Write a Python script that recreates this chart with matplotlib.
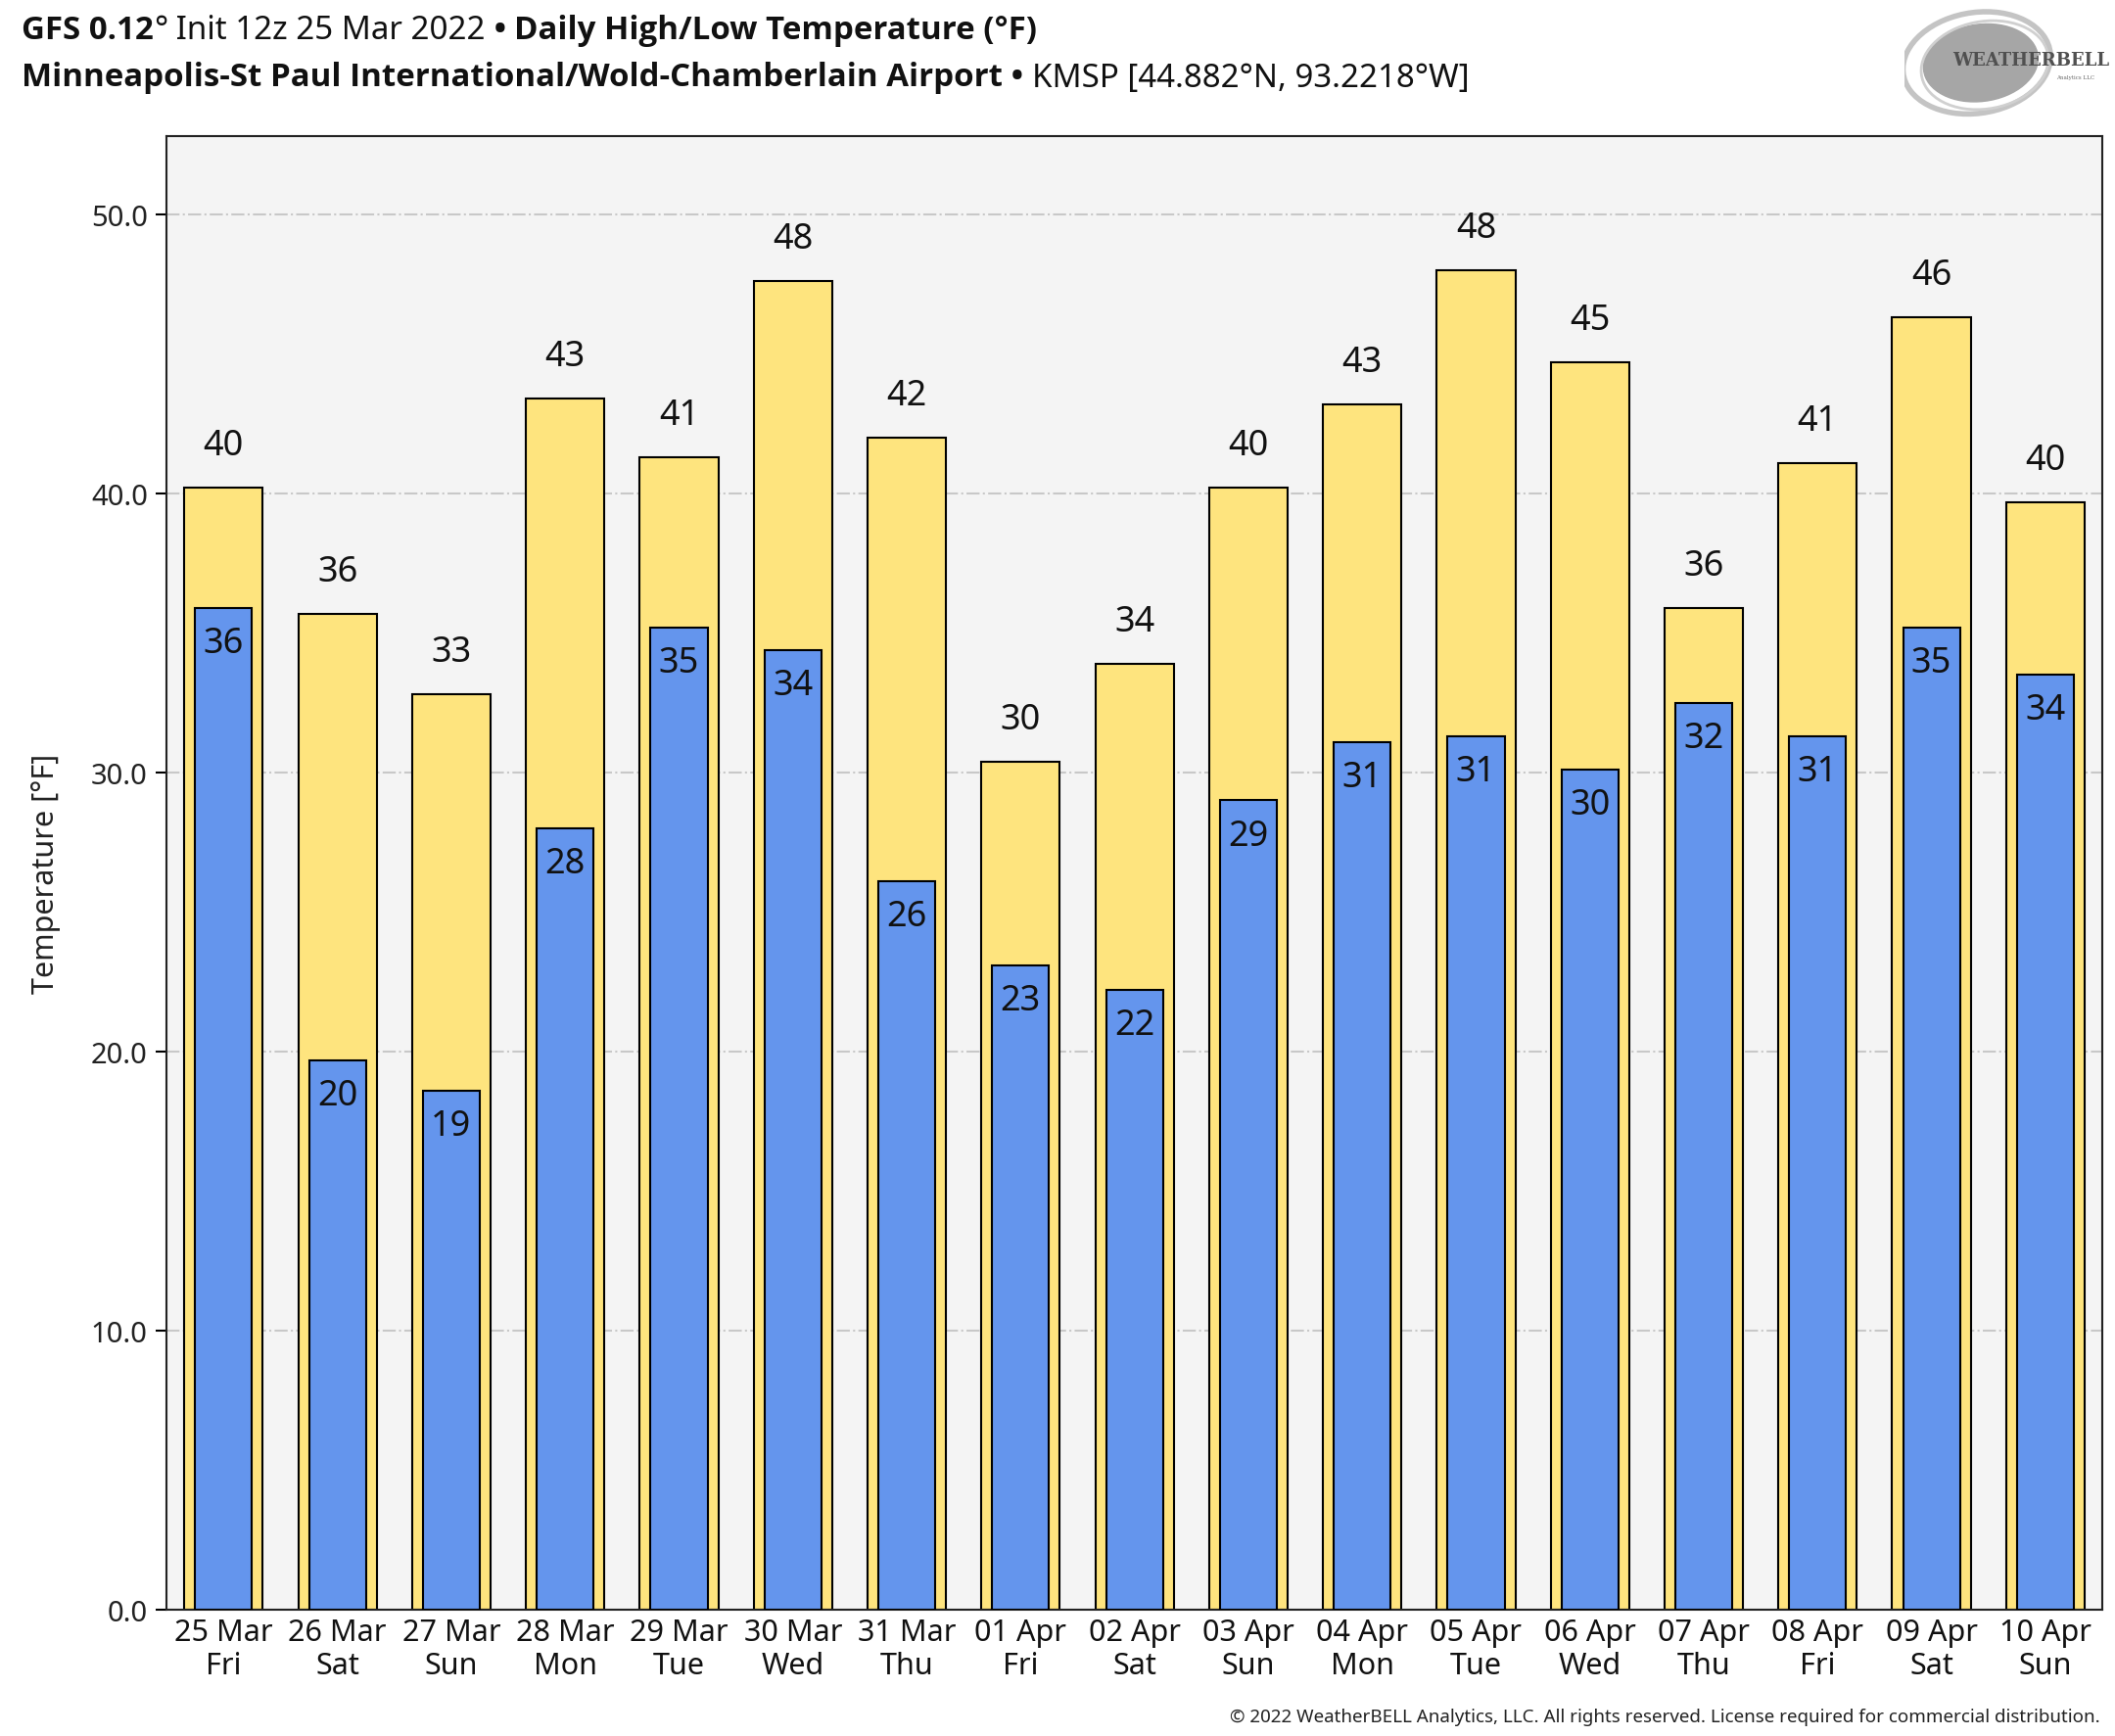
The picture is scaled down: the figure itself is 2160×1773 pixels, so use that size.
import matplotlib
matplotlib.use("Agg")
import matplotlib.pyplot as plt
from matplotlib.patches import Ellipse
from matplotlib import font_manager as fm
import numpy as np

dates = ["25 Mar", "26 Mar", "27 Mar", "28 Mar", "29 Mar", "30 Mar", "31 Mar", "01 Apr", "02 Apr",
         "03 Apr", "04 Apr", "05 Apr", "06 Apr", "07 Apr", "08 Apr", "09 Apr", "10 Apr"]
weekdays = ["Fri", "Sat", "Sun", "Mon", "Tue", "Wed", "Thu", "Fri", "Sat",
            "Sun", "Mon", "Tue", "Wed", "Thu", "Fri", "Sat", "Sun"]
highs = [40.2, 35.7, 32.8, 43.4, 41.3, 47.6, 42.0, 30.4, 33.9, 40.2, 43.2, 48.0, 44.7, 35.9, 41.1, 46.3, 39.7]
lows = [35.9, 19.7, 18.6, 28.0, 35.2, 34.4, 26.1, 23.1, 22.2, 29.0, 31.1, 31.3, 30.1, 32.5, 31.3, 35.2, 33.5]
yticks = [0, 10, 20, 30, 40, 50]

plt.rcParams['font.family'] = ['Noto Sans', 'DejaVu Sans']

bold_family = 'DejaVu Sans'
for fam in ['Noto Sans', 'Open Sans', 'Roboto', 'Lato', 'Inter']:
    try:
        p = fm.findfont(fm.FontProperties(family=fam, weight='bold'), fallback_to_default=False)
        if 'bold' in p.lower() or 'black' in p.lower() or 'semibold' in p.lower():
            bold_family = fam
            break
    except Exception:
        pass

W, H = 2160, 1774
fig = plt.figure(figsize=(W / 100, H / 100), dpi=100)
ax = fig.add_axes([0.0788, 0.0727, 0.994 - 0.0788, 0.921 - 0.0727])
ax.set_facecolor('#f4f4f4')

x = np.arange(len(dates))
ax.set_axisbelow(True)
ax.grid(axis='y', linestyle='-.', color='#c8c8c8', linewidth=1.5)
ax.bar(x, highs, width=0.69, color='#fee47e', edgecolor='black', linewidth=1.5, zorder=2)
ax.bar(x, lows, width=0.5, color='#6495ed', edgecolor='black', linewidth=1.5, zorder=3)

for xi, h, l in zip(x, highs, lows):
    ax.annotate(f"{round(h):d}", (xi, h), xytext=(0, 18), textcoords='offset points',
                ha='center', va='bottom', fontsize=26, color='#111111', zorder=4)
    ax.annotate(f"{round(l):d}", (xi, l), xytext=(0, -13), textcoords='offset points',
                ha='center', va='top', fontsize=26, color='#111111', zorder=4)

ax.set_xlim(-0.5, len(dates) - 0.5)
ax.set_ylim(0, 52.8)
ax.set_yticks(yticks)
ax.set_yticklabels([f"{v:.1f}" for v in yticks], fontsize=21, color='#222222')
ax.set_xticks(x)
ax.set_xticklabels([f"{d}\n{w}" for d, w in zip(dates, weekdays)], fontsize=22, color='#111111',
                   linespacing=1.15)
ax.tick_params(axis='x', length=0, pad=6)
ax.tick_params(axis='y', length=8, width=1.5, pad=6)
for s in ax.spines.values():
    s.set_linewidth(1.5)
    s.set_color('#222222')
ax.set_ylabel("Temperature [°F]", fontsize=22, color='#222222', labelpad=22)

# Title with mixed weights
fig.canvas.draw()
renderer = fig.canvas.get_renderer()

def line(pieces, y, x0=22 / W, size=23.8):
    xx = x0
    for txt, wt in pieces:
        fam = [bold_family, 'DejaVu Sans'] if wt == 'bold' else ['Noto Sans', 'DejaVu Sans']
        t = fig.text(xx, y, txt, fontsize=size, fontweight=wt, family=fam,
                     ha='left', va='center', color='#111111')
        bb = t.get_window_extent(renderer=renderer)
        xx += bb.width / W

line([("GFS 0.12", 'bold'), ("°", 'normal'), (" Init 12z 25 Mar 2022", 'normal'), (" • ", 'bold'),
      ("Daily High/Low Temperature (°F)", 'bold')], 1 - 32 / H)
line([("Minneapolis-St Paul International/Wold-Chamberlain Airport", 'bold'),
      (" • ", 'bold'), ("KMSP [44.882°N, 93.2218°W]", 'normal')], 1 - 80 / H)

# Logo approximation
lax = fig.add_axes([1945 / W, 1 - 125 / H, 205 / W, 115 / H])
lax.set_xlim(0, 1)
lax.set_ylim(0, 1)
lax.axis('off')
lax.add_patch(Ellipse((0.36, 0.52), 0.72, 0.92, angle=-15, fill=False, edgecolor='#c4c4c4', linewidth=4))
lax.add_patch(Ellipse((0.38, 0.52), 0.56, 0.70, angle=-15, color='#a6a6a6'))
lax.add_patch(Ellipse((0.40, 0.50), 0.62, 0.80, angle=-15, fill=False, edgecolor='#d0d0d0', linewidth=2))
lax.text(0.63, 0.55, "WEATHERBELL", fontsize=13, family='DejaVu Serif', ha='center', va='center',
         color='#505050', fontweight='bold')
lax.text(0.85, 0.40, "Analytics LLC", fontsize=4, family='DejaVu Serif', ha='center', va='center',
         color='#666666')

fig.text(0.993, 20 / H, "© 2022 WeatherBELL Analytics, LLC. All rights reserved. License required for commercial distribution.",
         fontsize=13.5, ha='right', va='center', color='#222222')

fig.savefig("out.png", dpi=100, facecolor='white')
